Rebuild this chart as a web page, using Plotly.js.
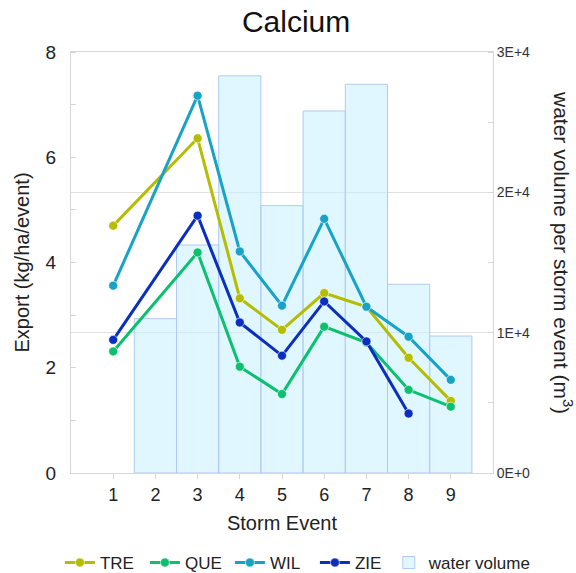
<!DOCTYPE html>
<html>
<head>
<meta charset="utf-8">
<script src="https://cdn.plot.ly/plotly-3.0.1.min.js"></script>
<style>html,body{margin:0;padding:0;background:#fff;}#chart{width:576px;height:573px;}</style>
</head>
<body>
<div id="chart"></div>
<script>
// Data
var events = [1, 3, 4, 5, 6, 7, 8, 9];
var eventsZIE = [1, 3, 4, 5, 6, 7, 8];
var TRE = [4.70, 6.36, 3.32, 2.72, 3.42, 3.16, 2.19, 1.37];
var QUE = [2.31, 4.19, 2.02, 1.50, 2.78, 2.48, 1.58, 1.26];
var WIL = [3.56, 7.17, 4.21, 3.18, 4.83, 3.16, 2.59, 1.77];
var ZIE = [2.53, 4.89, 2.86, 2.23, 3.26, 2.50, 1.13];
var volumeEvents = [2, 3, 4, 5, 6, 7, 8, 9];
var waterVolume = [11000, 16250, 28300, 19050, 25800, 27700, 13450, 9760];
var xTicks = [1, 2, 3, 4, 5, 6, 7, 8, 9];
var exportTicks = [0, 2, 4, 6, 8];
var volTickVals = [0, 10000, 20000, 30000];
var volTickText = ['0E+0', '1E+4', '2E+4', '3E+4'];

var font = 'Liberation Sans, Arial, sans-serif';
function lineTrace(name, x, y, color) {
  return {
    type: 'scatter', mode: 'lines+markers', name: name, x: x, y: y,
    xaxis: 'x', yaxis: 'y2', legend: 'legend',
    line: {color: color, width: 3},
    marker: {color: color, size: 9, line: {color: 'rgba(255,255,255,0.6)', width: 1}}
  };
}
var data = [
  {
    type: 'bar', name: 'water volume', x: volumeEvents, y: waterVolume,
    xaxis: 'x', yaxis: 'y', width: 1, legend: 'legend2',
    marker: {color: 'rgba(200,240,255,0.55)', line: {color: '#aecbf4', width: 1}}
  },
  lineTrace('TRE', events, TRE, '#b5bd00'),
  lineTrace('QUE', events, QUE, '#0cc070'),
  lineTrace('WIL', events, WIL, '#17a3c6'),
  lineTrace('ZIE', eventsZIE, ZIE, '#0a2ec0')
];
var axisLine = '#d6d6d6';
var legendBase = {orientation: 'h', xref: 'container', yref: 'container', xanchor: 'left', y: 0.0175, yanchor: 'middle',
  font: {size: 17, color: '#222'}, bgcolor: 'rgba(0,0,0,0)', itemwidth: 30};
var layout = {
  width: 576, height: 573,
  margin: {l: 71, r: 83, t: 52, b: 100},
  paper_bgcolor: '#fff', plot_bgcolor: '#fff',
  font: {family: font, color: '#222'},
  title: {text: 'Calcium', font: {size: 30, color: '#111'}, x: 0.514, xref: 'container', xanchor: 'center', y: 0.962, yref: 'container', yanchor: 'middle'},
  showlegend: true,
  legend: Object.assign({}, legendBase, {x: 0.104, entrywidth: 40}),
  legend2: Object.assign({}, legendBase, {x: 0.675}),
  bargap: 0,
  xaxis: {
    range: [0, 10], tickvals: xTicks, ticks: 'outside', ticklen: 5, tickcolor: axisLine,
    showline: true, linecolor: axisLine, mirror: true, showgrid: false, zeroline: false,
    tickfont: {size: 18, color: '#222'}, automargin: true,
    title: {text: 'Storm Event', font: {size: 20, color: '#222'}, standoff: 12}
  },
  yaxis: {
    side: 'right', range: [0, 30000], tickvals: volTickVals, ticktext: volTickText,
    showgrid: true, gridcolor: '#e2e2e2', showline: true, linecolor: axisLine, zeroline: false,
    ticks: '', tickfont: {size: 14, color: '#333'},
    minor: {ticks: 'inside', dtick: 5000, ticklen: 5, tickcolor: axisLine, showgrid: false}
  },
  yaxis2: {
    overlaying: 'y', side: 'left', range: [0, 8], tickvals: exportTicks,
    showgrid: false, showline: true, linecolor: axisLine, zeroline: false,
    ticks: '', tickfont: {size: 19, color: '#222'}, ticklabelstandoff: 10,
    minor: {ticks: 'inside', dtick: 1, ticklen: 5, tickcolor: axisLine, showgrid: false},
    title: {text: 'Export (kg/ha/event)', font: {size: 20, color: '#222'}, standoff: 10}
  },
  annotations: [{
    text: 'water volume per storm event (m<sup>3</sup>)', textangle: 90,
    xref: 'paper', yref: 'paper', x: 1.0, xshift: 70, y: 0.525, xanchor: 'center', yanchor: 'middle',
    showarrow: false, font: {size: 21, color: '#222'}
  }]
};
Plotly.newPlot('chart', data, layout, {displayModeBar: false, staticPlot: true});
</script>
</body>
</html>
